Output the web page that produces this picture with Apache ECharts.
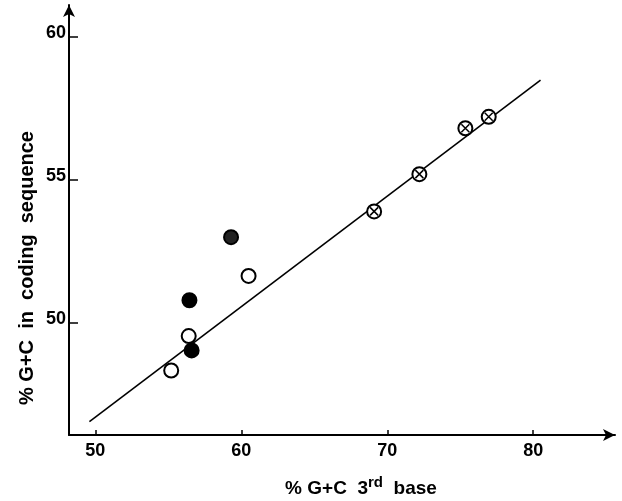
<!DOCTYPE html>
<html>
<head>
    <title>G+C 3rd base</title>
    <meta http-equiv="Content-Type" content="text/html; charset=utf-8" />
    <script src="https://cdn.jsdelivr.net/npm/echarts@6/dist/echarts.min.js"></script>
    <style>
        html, body { margin: 0; padding: 0; background: #fff; }
    </style>
    <script>
        // tick labels
        var xTicks = [50, 60, 70, 80];
        var yTicks = [50, 55, 60];

        // open circles
        var openX = [60.5, 56.4, 55.2];
        var openY = [51.65, 49.55, 48.35];
        // filled circles
        var fillX = [56.45, 56.6];
        var fillY = [50.8, 49.05];
        // stippled circle
        var dotX = [59.3];
        var dotY = [53.0];
        // crossed circles
        var crossX = [69.1, 72.2, 75.35, 76.95];
        var crossY = [53.9, 55.2, 56.8, 57.2];
        // regression line ends
        var lineX = [49.6, 80.5];
        var lineY = [46.57, 58.48];

        function pairs(xs, ys) {
            var out = [];
            for (var i = 0; i < xs.length; i++) out.push([xs[i], ys[i]]);
            return out;
        }

        window.onload = function () {
            var mychart = echarts.init(document.getElementById("div_echart"));
            var font = 'Liberation Sans';
            var circle = function (name, xs, ys, fill) {
                return {
                    name: name,
                    type: 'scatter',
                    symbol: 'circle',
                    symbolSize: 14,
                    z: 3,
                    itemStyle: { color: fill, borderColor: '#000', borderWidth: 2, opacity: 1 },
                    data: pairs(xs, ys)
                };
            };
            var option = {
                animation: false,
                grid: { left: 69, right: 7, top: 5, bottom: 66 },
                xAxis: {
                    type: 'value',
                    min: 48.2,
                    max: 85.6,
                    splitLine: { show: false },
                    axisLine: {
                        lineStyle: { color: '#000', width: 2 },
                        symbol: ['none', 'arrow'],
                        symbolSize: [9, 12]
                    },
                    axisTick: { inside: true, length: 5, customValues: xTicks, lineStyle: { color: '#000', width: 1.5 } },
                    axisLabel: {
                        customValues: xTicks, color: '#000', fontFamily: font, fontWeight: 'bold', fontSize: 18, margin: 7
                    }
                },
                yAxis: {
                    type: 'value',
                    min: 46.1,
                    max: 61.1,
                    splitLine: { show: false },
                    axisLine: {
                        lineStyle: { color: '#000', width: 2 },
                        symbol: ['none', 'arrow'],
                        symbolSize: [9, 12]
                    },
                    axisTick: { inside: true, length: 9, customValues: yTicks, lineStyle: { color: '#000', width: 1.5 } },
                    axisLabel: {
                        customValues: yTicks, color: '#000', fontFamily: font, fontWeight: 'bold', fontSize: 18, margin: 3,
                        verticalAlign: 'bottom', lineHeight: 8
                    }
                },
                graphic: [
                    {
                        type: 'text',
                        x: 27, y: 268,
                        rotation: Math.PI / 2,
                        style: {
                            text: '% G+C  in  coding  sequence',
                            font: 'bold 20px "Liberation Sans"',
                            fill: '#000',
                            align: 'center',
                            verticalAlign: 'middle'
                        }
                    },
                    {
                        type: 'text',
                        x: 361, y: 487,
                        style: {
                            text: '{a|% G+C  3}{s|rd}{a|  base}',
                            rich: {
                                a: { font: 'bold 19px "Liberation Sans"', fill: '#000', verticalAlign: 'bottom' },
                                s: { font: 'bold 15px "Liberation Sans"', fill: '#000', padding: [0, 0, 8, 0], verticalAlign: 'bottom' }
                            },
                            align: 'center',
                            verticalAlign: 'middle'
                        }
                    }
                ],
                series: [
                    {
                        type: 'line',
                        data: pairs(lineX, lineY),
                        showSymbol: false,
                        z: 1,
                        lineStyle: { color: '#000', width: 1.6 }
                    },
                    circle('open', openX, openY, '#fff'),
                    circle('filled', fillX, fillY, '#000'),
                    circle('stippled', dotX, dotY, '#222'),
                    circle('crossed', crossX, crossY, '#fff'),
                    {
                        name: 'cross',
                        type: 'scatter',
                        symbol: 'path://M0,0L10,10M10,0L0,10',
                        symbolSize: 8,
                        z: 4,
                        itemStyle: { color: 'none', borderColor: '#000', borderWidth: 1.5, opacity: 1 },
                        data: pairs(crossX, crossY)
                    }
                ]
            };
            mychart.setOption(option, true);
        };
    </script>
</head>
<body>
    <div id="div_echart" style="width: 622px; height: 501px;"></div>
</body>
</html>
